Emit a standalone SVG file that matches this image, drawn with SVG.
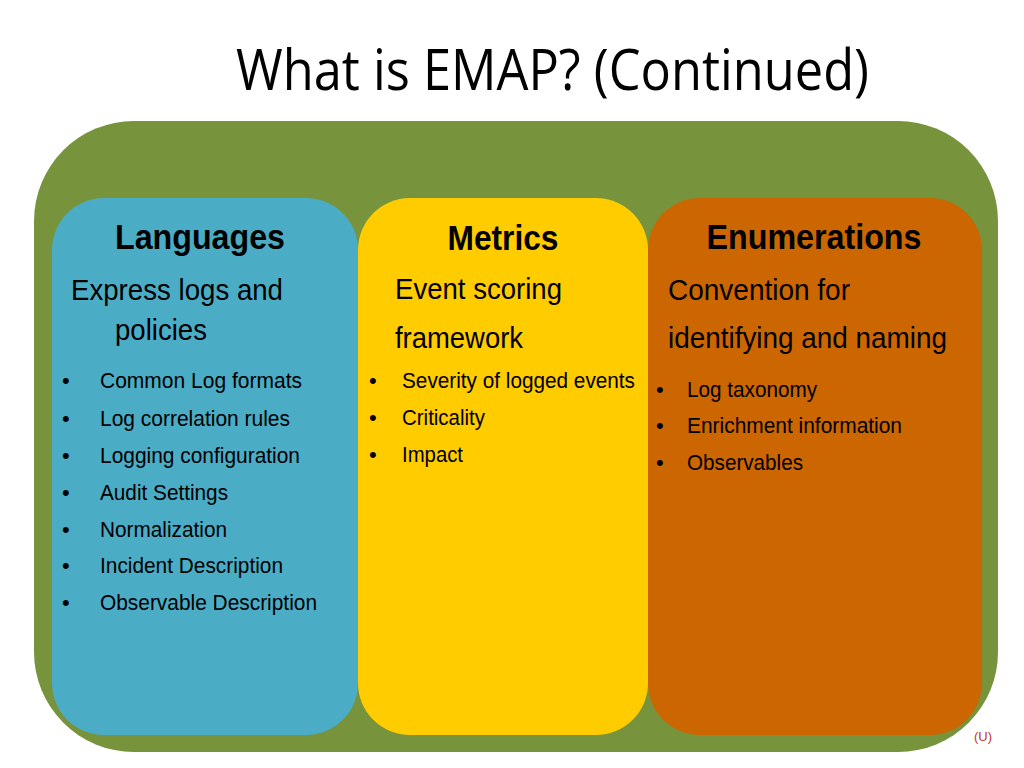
<svg xmlns="http://www.w3.org/2000/svg" width="1024" height="768" viewBox="0 0 1024 768">
<style>
.h{font-family:"Liberation Sans",Arial,sans-serif;font-weight:bold;font-size:35px;fill:#000;text-anchor:middle}
.s{font-family:"Liberation Sans",Arial,sans-serif;font-size:30px;fill:#000}
.b{font-family:"Liberation Sans",Arial,sans-serif;font-size:22px;fill:#000}
.t{font-family:"Open Sans","Noto Sans",sans-serif;font-size:56px;fill:#000}
</style>
<rect width="1024" height="768" fill="#fff"/>
<text class="t" x="236" y="90" textLength="633" lengthAdjust="spacingAndGlyphs">What is EMAP? (Continued)</text>
<g id="outer">
<rect x="34" y="121" width="964" height="631" rx="100" ry="100" fill="#77933C"/>
</g>
<g id="languages">
<rect x="52" y="198" width="306" height="537" rx="52" ry="52" fill="#4BACC6"/>
<text class="h" x="200" y="249" textLength="170" lengthAdjust="spacingAndGlyphs">Languages</text>
<text class="s" x="71" y="300" textLength="212" lengthAdjust="spacingAndGlyphs">Express logs and</text>
<text class="s" x="115" y="340" textLength="92" lengthAdjust="spacingAndGlyphs">policies</text>
<g class="b">
<text x="62" y="388">•</text><text x="100" y="388" textLength="202" lengthAdjust="spacingAndGlyphs">Common Log formats</text>
<text x="62" y="426">•</text><text x="100" y="426" textLength="190" lengthAdjust="spacingAndGlyphs">Log correlation rules</text>
<text x="62" y="463">•</text><text x="100" y="463" textLength="200" lengthAdjust="spacingAndGlyphs">Logging configuration</text>
<text x="62" y="500">•</text><text x="100" y="500" textLength="128" lengthAdjust="spacingAndGlyphs">Audit Settings</text>
<text x="62" y="537">•</text><text x="100" y="537" textLength="127" lengthAdjust="spacingAndGlyphs">Normalization</text>
<text x="62" y="573">•</text><text x="100" y="573" textLength="183" lengthAdjust="spacingAndGlyphs">Incident Description</text>
<text x="62" y="610">•</text><text x="100" y="610" textLength="217" lengthAdjust="spacingAndGlyphs">Observable Description</text>
</g>
</g>
<g id="metrics">
<rect x="358" y="198" width="290" height="537" rx="52" ry="52" fill="#FFCC00"/>
<text class="h" x="503" y="250" textLength="111" lengthAdjust="spacingAndGlyphs">Metrics</text>
<text class="s" x="395" y="299" textLength="167" lengthAdjust="spacingAndGlyphs">Event scoring</text>
<text class="s" x="395" y="348" textLength="128" lengthAdjust="spacingAndGlyphs">framework</text>
<g class="b">
<text x="369" y="388">•</text><text x="402" y="388" textLength="233" lengthAdjust="spacingAndGlyphs">Severity of logged events</text>
<text x="369" y="425">•</text><text x="402" y="425" textLength="83" lengthAdjust="spacingAndGlyphs">Criticality</text>
<text x="369" y="462">•</text><text x="402" y="462" textLength="61" lengthAdjust="spacingAndGlyphs">Impact</text>
</g>
</g>
<g id="enumerations">
<rect x="648" y="198" width="334" height="537" rx="52" ry="52" fill="#CC6600"/>
<text class="h" x="814" y="249" textLength="215" lengthAdjust="spacingAndGlyphs">Enumerations</text>
<text class="s" x="668" y="300" textLength="182" lengthAdjust="spacingAndGlyphs">Convention for</text>
<text class="s" x="668" y="348" textLength="279" lengthAdjust="spacingAndGlyphs">identifying and naming</text>
<g class="b">
<text x="656" y="397">•</text><text x="687" y="397" textLength="130" lengthAdjust="spacingAndGlyphs">Log taxonomy</text>
<text x="656" y="433">•</text><text x="687" y="433" textLength="215" lengthAdjust="spacingAndGlyphs">Enrichment information</text>
<text x="656" y="470">•</text><text x="687" y="470" textLength="116" lengthAdjust="spacingAndGlyphs">Observables</text>
</g>
</g>
<g id="connectors"/>
<text x="983" y="741" text-anchor="middle" font-family="Liberation Sans, Arial, sans-serif" font-size="13" fill="#C0392B">(U)</text>
</svg>
